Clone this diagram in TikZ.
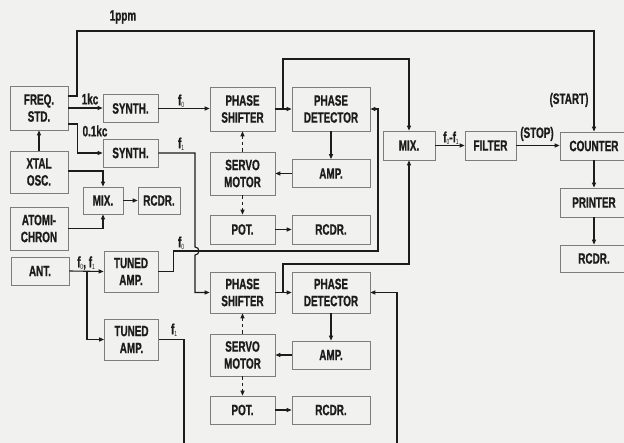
\documentclass[tikz,border=0pt]{standalone}
\usepackage{fontspec}
\setmainfont{Liberation Sans}[FakeStretch=0.66, BoldFeatures={FakeBold=0.8}]
\usetikzlibrary{arrows.meta}
\definecolor{bg}{RGB}{241,241,240}
\definecolor{ink}{RGB}{28,28,28}
\definecolor{boxline}{RGB}{125,125,125}
\newcommand\lsub[1]{\raisebox{-2pt}{\fontsize{7.5}{7.5}\selectfont\mdseries #1}}
\begin{document}
\begin{tikzpicture}[x=1pt,y=-1pt,
  blk/.style 2 args={draw=boxline, line width=0.7pt, align=center, inner sep=0pt,
    minimum width=#1pt, minimum height=#2pt,
    font=\fontsize{15}{17}\selectfont\bfseries, text=ink},
  wire/.style={draw=ink, line width=1.1pt},
  arr/.style={wire, -{Triangle[length=5pt,width=4pt]}},
  dsh/.style={arr, dash pattern=on 3.5pt off 3pt},
  lbl/.style={font=\fontsize{15}{17}\selectfont\bfseries, text=ink, inner sep=0pt}
]
\fill[bg] (0,0) rectangle (624,443);
\useasboundingbox (0,0) rectangle (624,443);

% left column
\node[blk={58}{44}] (fs) at (39,108) {FREQ.\\STD.};
\node[blk={58}{42}] (xtal) at (39,172) {XTAL\\OSC.};
\node[blk={58}{43}] (atomi) at (39,228.5) {ATOMI-\\CHRON};
\node[blk={58}{28}] (ant) at (40,271) {ANT.};
\node[blk={55}{28}] (syn1) at (130.5,108.5) {SYNTH.};
\node[blk={55}{28}] (syn2) at (130.5,153) {SYNTH.};
\node[blk={40}{27}] (mix1) at (103,200.5) {MIX.};
\node[blk={42}{27}] (rc1) at (159,200.5) {RCDR.};
\node[blk={54}{41}] (ta1) at (131,271.5) {TUNED\\AMP.};
\node[blk={54}{41}] (ta2) at (131.5,339.5) {TUNED\\AMP.};

% upper loop
\node[blk={65}{44}] (ps1) at (242.5,109) {PHASE\\SHIFTER};
\node[blk={78}{44}] (pd1) at (331,109) {PHASE\\DETECTOR};
\node[blk={65}{43}] (sm1) at (242.5,173.5) {SERVO\\MOTOR};
\node[blk={78}{28}] (amp1) at (331,173.5) {AMP.};
\node[blk={65}{29}] (pot1) at (242.5,229.5) {POT.};
\node[blk={78}{29}] (rc2) at (331,229.5) {RCDR.};

% lower loop
\node[blk={65}{41}] (ps2) at (242.5,292.5) {PHASE\\SHIFTER};
\node[blk={78}{41}] (pd2) at (331,292.5) {PHASE\\DETECTOR};
\node[blk={65}{42}] (sm2) at (242.5,355) {SERVO\\MOTOR};
\node[blk={78}{28}] (amp2) at (331,355) {AMP.};
\node[blk={65}{28}] (pot2) at (242.5,410) {POT.};
\node[blk={78}{28}] (rc4) at (331,410) {RCDR.};

% right part
\node[blk={52}{29}] (mix2) at (409,145.5) {MIX.};
\node[blk={51}{29}] (filt) at (490.5,145.5) {FILTER};
\node[blk={68}{28}] (cnt) at (594,146) {COUNTER};
\node[blk={68}{29}] (prn) at (594,202.5) {PRINTER};
\node[blk={68}{27}] (rc3) at (594,258.5) {RCDR.};

% coordinates
\coordinate (top1) at (77,31);
\coordinate (b1) at (283,109);
\coordinate (t1) at (283,59);
\coordinate (b2) at (283,292.5);
\coordinate (t2) at (283,264);
\coordinate (hop) at (195,247);
\coordinate (f0turn) at (378,251);
\coordinate (antj) at (87,271);
\coordinate (e1) at (184,446);
\coordinate (e2) at (397,446);

% connectors
\draw[arr] ([yshift=12pt]fs.east) -| (top1) -| (cnt.north);
\draw[arr] (fs.east) -- (fs.east -| syn1.west);
\draw[arr] ([yshift=-16pt]fs.east) -- ++(9,0) |- (syn2.west);
\draw[arr] (xtal.north) -- (fs.south);
\draw[arr] ([yshift=1pt]xtal.east) -| (mix1.north);
\draw[arr] (atomi.east) -| (mix1.south);
\draw[arr] (mix1.east) -- (rc1.west);
\draw[arr] (syn1.east) -- (syn1.east -| ps1.west);
\draw[arr] (syn2.east) -| (hop) arc[start angle=90, end angle=-90, radius=4pt] |- (ps2.west);
\draw[arr] (ant.east) -- (ta1.west);
\draw[arr] (antj) |- (ta2.west);
\draw[arr] (ta1.east) -- ++(15,0) |- (f0turn) |- (pd1.east);
\draw[wire] (ta2.east) -| (e1);
\draw[arr] (e2) |- (pd2.east);

\draw[arr] (ps1.east) -- (pd1.west);
\draw[arr] (b1) -- (t1) -| (mix2.north);
\draw[arr] (pd1.south) -- (amp1.north);
\draw[arr] (amp1.west) -- (sm1.east);
\draw[dsh] (sm1.north) -- (ps1.south);
\draw[dsh] (sm1.south) -- (pot1.north);
\draw[arr] (pot1.east) -- (rc2.west);

\draw[arr] (ps2.east) -- (pd2.west);
\draw[arr] (b2) -- (t2) -| (mix2.south);
\draw[arr] (pd2.south) -- (amp2.north);
\draw[arr] (amp2.west) -- (sm2.east);
\draw[dsh] (sm2.north) -- (ps2.south);
\draw[dsh] (sm2.south) -- (pot2.north);
\draw[arr] (pot2.east) -- (rc4.west);

\draw[arr] (mix2.east) -- (filt.west);
\draw[arr] (filt.east) -- (filt.east -| cnt.west);
\draw[arr] (cnt.south) -- (prn.north);
\draw[arr] (prn.south) -- (rc3.north);

% labels
\node[lbl] (l1) at (123,17) {1ppm};
\node[lbl] (l2) at (90,99) {1kc};
\node[lbl] (l3) at (95,131) {0.1kc};
\node[lbl] (l4) at (181,101) {f\lsub{0}};
\node[lbl] (l5) at (181,144) {f\lsub{1}};
\node[lbl] (l6) at (181,243) {f\lsub{0}};
\node[lbl] (l7) at (86,263) {f\lsub{0}, f\lsub{1}};
\node[lbl] (l8) at (174,330) {f\lsub{1}};
\node[lbl] (l9) at (451,138) {f\lsub{0}-f\lsub{1}};
\node[lbl] (l10) at (537,134) {(STOP)};
\node[lbl] (l11) at (569,100) {(START)};
\end{tikzpicture}
\end{document}
